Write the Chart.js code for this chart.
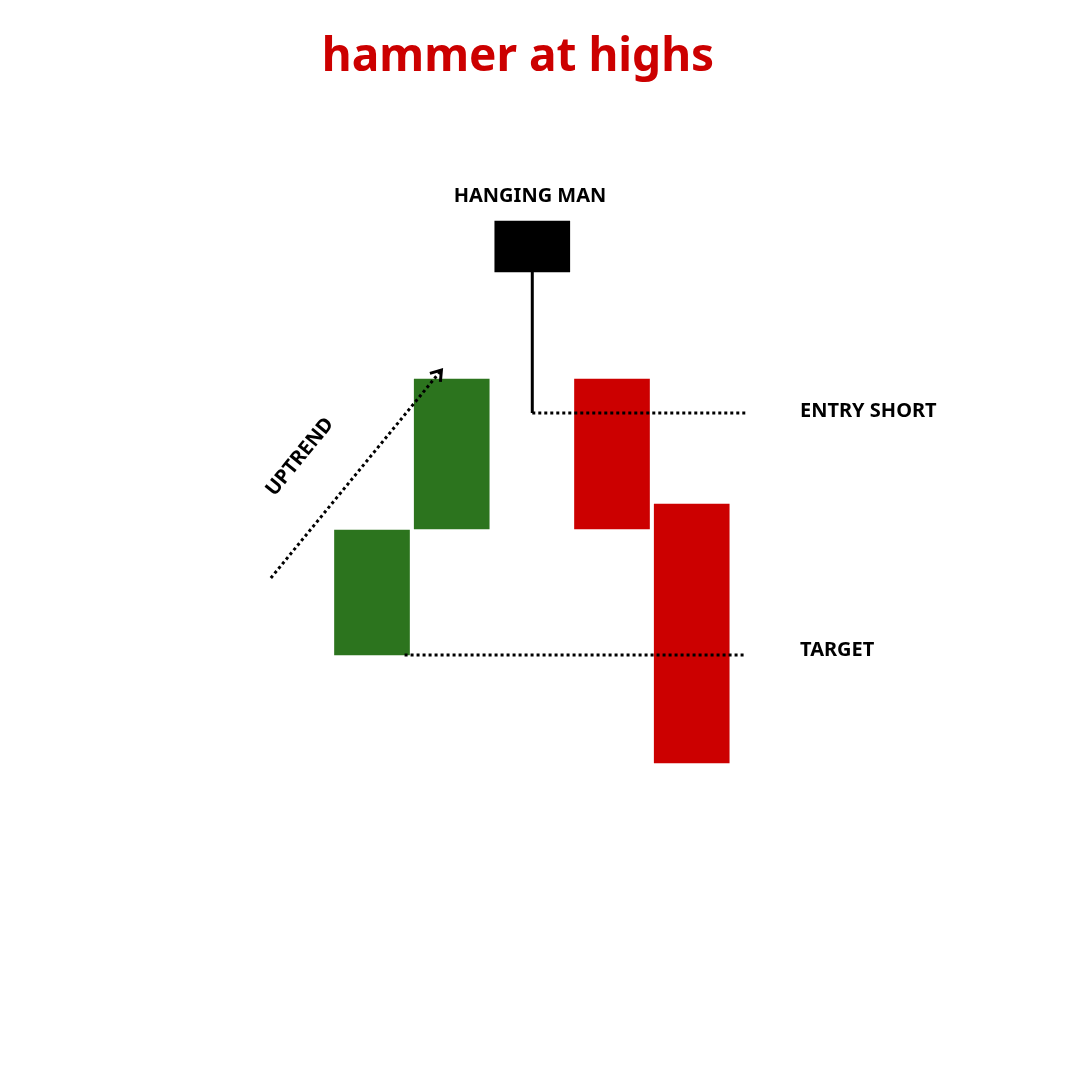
<!DOCTYPE html>
<html>
<head>
<meta charset="utf-8">
<script src="https://cdn.jsdelivr.net/npm/chart.js@4"></script>
<style>
  html, body { margin: 0; padding: 0; background: #fff; }
  canvas { display: block; }
</style>
</head>
<body>
<canvas id="chart" width="1080" height="1080"></canvas>
<script>
// candle positions along the x axis and their open/close values
const candleX = [344, 437, 531, 624, 717];
const candleOpen = [425, 551, 859, 701, 576];
const candleClose = [550, 701, 808, 551, 317];
const candleColors = ['#2c741e', '#2c741e', '#000000', '#cc0000', '#cc0000'];

// hanging man wick, entry and target levels
const wickX = [531, 531];
const wickY = [808, 667];
const entryX = [531, 780];
const entryY = [667, 667];
const targetX = [382, 780];
const targetY = [425, 425];
const trendX = [226, 425];
const trendY = [502, 710];

const pts = (xs, ys) => xs.map((x, i) => ({ x, y: ys[i] }));

const textPlugin = {
    id: 'labels',
    afterDraw(chart) {
        const ctx = chart.ctx;
        const xs = chart.scales.x, ys = chart.scales.y;
        ctx.save();
        // arrow head at end of the uptrend line
        const x1 = xs.getPixelForValue(trendX[1]), y1 = ys.getPixelForValue(trendY[1]);
        const x0 = xs.getPixelForValue(trendX[0]), y0 = ys.getPixelForValue(trendY[0]);
        const a = Math.atan2(y1 - y0, x1 - x0);
        ctx.strokeStyle = '#000';
        ctx.lineWidth = 3;
        ctx.beginPath();
        ctx.moveTo(x1 - 12 * Math.cos(a - 0.6), y1 - 12 * Math.sin(a - 0.6));
        ctx.lineTo(x1, y1);
        ctx.lineTo(x1 - 12 * Math.cos(a + 0.6), y1 - 12 * Math.sin(a + 0.6));
        ctx.stroke();

        ctx.fillStyle = '#cc0000';
        ctx.font = 'bold 46px "Noto Sans", sans-serif';
        ctx.textAlign = 'center';
        ctx.textBaseline = 'middle';
        ctx.fillText('hammer at highs', 518, 58);

        ctx.fillStyle = '#000';
        ctx.font = 'bold 20px "Noto Sans", sans-serif';
        ctx.fillText('HANGING MAN', 530, 196);
        ctx.textAlign = 'left';
        ctx.fillText('ENTRY SHORT', 800, 411);
        ctx.fillText('TARGET', 800, 650);

        ctx.translate(300, 457);
        ctx.rotate(a);
        ctx.textAlign = 'center';
        ctx.fillText('UPTREND', 0, 0);
        ctx.restore();
    }
};

const dotted = (data, dashed) => ({
    type: 'line',
    data,
    borderColor: '#000',
    borderWidth: 3,
    borderDash: dashed ? [3, 3] : [],
    pointRadius: 0,
    fill: false,
});

new Chart(document.getElementById('chart'), {
    type: 'bar',
    data: {
        datasets: [
            dotted(pts(wickX, wickY), false),
            dotted(pts(entryX, entryY), true),
            dotted(pts(targetX, targetY), true),
            dotted(pts(trendX, trendY), true),
            {
                type: 'bar',
                data: candleX.map((x, i) => ({ x, y: [candleOpen[i], candleClose[i]] })),
                backgroundColor: candleColors,
                barThickness: 75,
                borderWidth: 0,
            },
        ],
    },
    plugins: [textPlugin],
    options: {
        responsive: false,
        animation: false,
        layout: { padding: 0 },
        plugins: { legend: { display: false }, tooltip: { enabled: false } },
        scales: {
            x: { type: 'linear', min: 0, max: 1080, display: false },
            y: { type: 'linear', min: 0, max: 1080, display: false },
        },
    },
});
</script>
</body>
</html>
